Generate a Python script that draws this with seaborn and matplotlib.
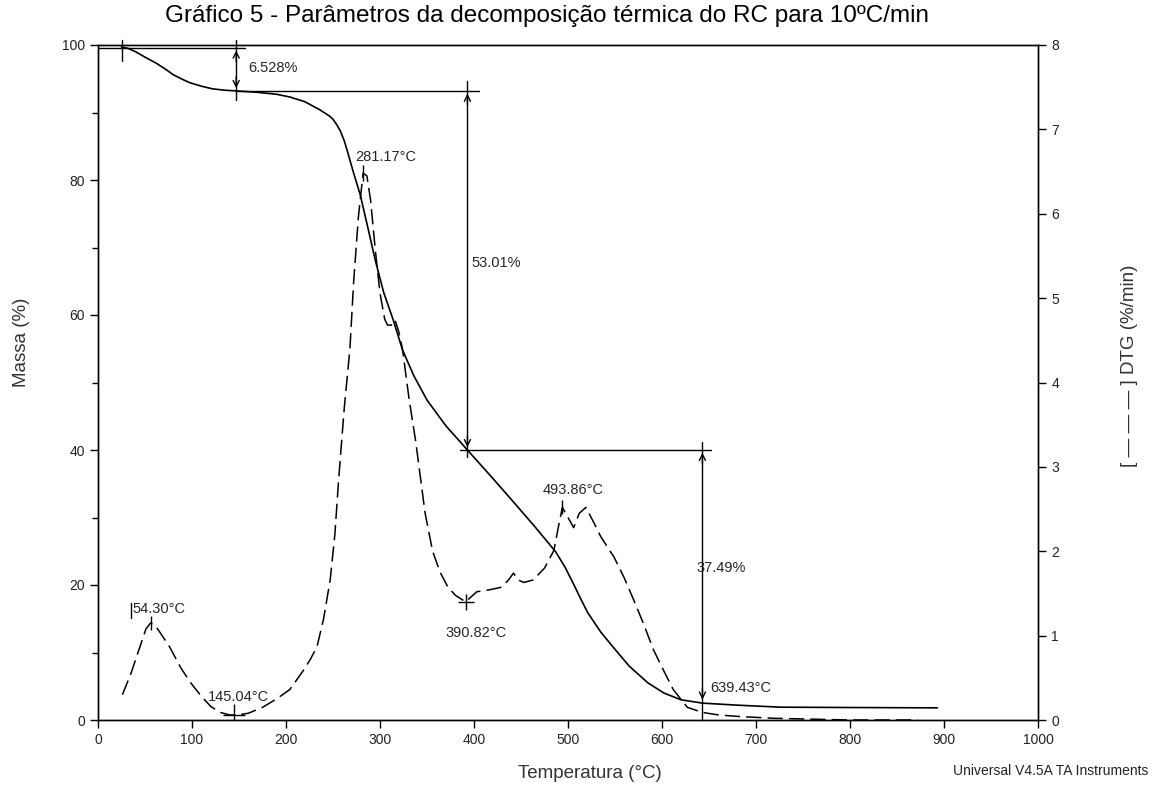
import numpy as np
import pandas as pd
import matplotlib
matplotlib.use("Agg")
import matplotlib.pyplot as plt
import seaborn as sns

# ---------------- data ----------------
tg_temp = [25, 32, 40, 50, 62, 72, 80, 90, 98, 110, 122, 135, 147, 169, 190, 204, 220,
           236, 246, 250, 254, 258, 262, 265, 272, 279, 287, 295, 304, 314, 324, 336,
           350, 370, 393, 420, 442, 465, 487, 497, 505, 513, 521, 535, 548, 565, 585,
           602, 620, 643, 680, 726, 800, 893]
tg_mass = [99.7, 99.5, 99.0, 98.2, 97.3, 96.4, 95.6, 94.9, 94.4, 93.9, 93.5, 93.3, 93.2,
           93.0, 92.7, 92.3, 91.6, 90.4, 89.5, 89.0, 88.2, 87.2, 85.8, 84.4, 81.0, 77.8,
           73.0, 68.1, 63.3, 59.3, 54.8, 51.0, 47.4, 43.6, 40.0, 35.8, 32.3, 28.6, 24.9,
           22.6, 20.4, 18.1, 15.9, 13.0, 10.8, 8.0, 5.5, 4.0, 3.0, 2.5, 2.2, 1.9, 1.85,
           1.8]

dtg_temp = [26, 35, 45, 51, 56, 61, 70, 76, 88, 98, 110, 120, 130, 140, 148, 160, 175,
            190, 204, 218, 226, 233, 240, 247, 252, 256, 262, 268, 272, 277, 282, 286,
            290, 295, 300, 305, 308, 312, 316, 320, 324, 331, 338, 348, 356, 364, 372,
            380, 391, 403, 415, 428, 436, 442, 447, 453, 463, 475, 485, 490, 494, 500,
            506, 512, 519, 527, 535, 549, 560, 570, 580, 591, 602, 612, 627, 643, 660,
            684, 720, 760, 800, 872]
dtg_rate = [0.30, 0.55, 0.88, 1.08, 1.15, 1.12, 0.97, 0.87, 0.62, 0.45, 0.28, 0.16, 0.09,
            0.06, 0.06, 0.08, 0.15, 0.25, 0.36, 0.58, 0.72, 0.87, 1.20, 1.66, 2.20, 2.85,
            3.70, 4.40, 5.20, 5.96, 6.48, 6.45, 6.16, 5.57, 5.06, 4.75, 4.68, 4.68, 4.74,
            4.60, 4.39, 3.80, 3.30, 2.45, 2.00, 1.75, 1.58, 1.48, 1.40, 1.52, 1.54, 1.57,
            1.65, 1.74, 1.66, 1.63, 1.66, 1.80, 2.01, 2.30, 2.52, 2.40, 2.28, 2.45, 2.52,
            2.35, 2.17, 1.93, 1.68, 1.42, 1.15, 0.83, 0.58, 0.36, 0.15, 0.09, 0.06, 0.04,
            0.02, 0.01, 0.0, 0.0]

x_ticks = [0, 100, 200, 300, 400, 500, 600, 700, 800, 900, 1000]
y_ticks = [0, 20, 40, 60, 80, 100]
y2_ticks = [0, 1, 2, 3, 4, 5, 6, 7, 8]

step_labels = ["6.528%", "53.01%", "37.49%"]
peak_labels = ["54.30°C", "145.04°C", "281.17°C", "390.82°C", "493.86°C", "639.43°C"]

title = "Gráfico 5 - Parâmetros da decomposição térmica do RC para 10ºC/min"

# ---------------- style ----------------
sns.set_theme(style="white")
plt.rcParams["font.family"] = ["Liberation Sans", "DejaVu Sans"]

fig = plt.figure(figsize=(11.54, 7.91), dpi=100)
ax = fig.add_axes([98 / 1154, 1 - 720 / 791, 940 / 1154, 675 / 791])
ax2 = ax.twinx()

tg_df = pd.DataFrame({"T": tg_temp, "M": tg_mass})
dtg_df = pd.DataFrame({"T": dtg_temp, "D": dtg_rate})

sns.lineplot(data=tg_df, x="T", y="M", ax=ax, color="black", lw=1.2, sort=False)
sns.lineplot(data=dtg_df, x="T", y="D", ax=ax2, color="black", lw=1.1, sort=False)
ax2.lines[0].set_dashes((10, 4))

ax.set_xlim(0, 1000)
ax.set_ylim(0, 100)
ax2.set_ylim(0, 8)
ax.set_xticks(x_ticks)
ax.set_yticks(y_ticks)
ax.set_yticks(np.arange(10, 100, 20), minor=True)
ax2.set_yticks(y2_ticks)

for a in (ax, ax2):
    for s in a.spines.values():
        s.set_color("black")
        s.set_linewidth(1.0)
ax.tick_params(axis="both", which="major", direction="out", length=6, width=1,
               color="black", labelsize=10, labelcolor="#222222",
               left=True, bottom=True)
ax.tick_params(axis="y", which="minor", direction="out", length=4, width=1,
               color="black", left=True)
ax2.tick_params(axis="y", which="major", direction="out", length=6, width=1,
                color="black", labelsize=10, labelcolor="#222222", right=True)

ax.set_xlabel("Temperatura (°C)", fontsize=13.5, color="#333333")
ax.set_ylabel("Massa (%)", fontsize=13.5, color="#333333")
ax2.set_ylabel("[ — — — ] DTG (%/min)", fontsize=13.5, color="#333333")
ax.xaxis.set_label_coords(0.523, -0.066)
ax.yaxis.set_label_coords(-0.072, 0.56)
ax2.yaxis.set_label_coords(1.088, 0.525)

fig.suptitle(title, x=0.474, y=0.994, fontsize=17.5, color="black")
fig.text(0.995, 0.025, "Universal V4.5A TA Instruments", ha="right", va="center",
         fontsize=10, color="#222222")

k = dict(color="black", lw=1.0)
akw = dict(arrowstyle="->", color="black", lw=1.0, mutation_scale=11)


def vert_arrow(x, y_top, y_bot, ext_top, ext_bot):
    ax.plot([x, x], [ext_bot, ext_top], **k, clip_on=False)
    ax.annotate("", xy=(x, y_top), xytext=(x, y_top - 2.5), arrowprops=akw)
    ax.annotate("", xy=(x, y_bot), xytext=(x, y_bot + 2.5), arrowprops=akw)


fs = 10.5
# step 1
ax.plot([-2, 156], [99.6, 99.6], **k)
ax.plot([25.5, 25.5], [97.6, 100.7], **k, clip_on=False)
vert_arrow(147, 99.6, 93.2, 100.8, 91.8)
ax.text(160, 96.6, step_labels[0], fontsize=fs, va="center", ha="left")
# step 2
ax.plot([148, 405], [93.2, 93.2], **k)
vert_arrow(393, 93.2, 40.0, 94.6, 39.0)
ax.text(397, 67.7, step_labels[1], fontsize=fs, va="center", ha="left")
# step 3
ax.plot([385, 652], [40.0, 40.0], **k)
vert_arrow(643, 40.0, 2.6, 41.2, 0)
ax.text(637, 22.5, step_labels[2], fontsize=fs, va="center", ha="left")

# peak markers (DTG axis)
ax2.plot([56], [1.15], marker="|", ms=10, color="black")
ax2.plot([145.04], [0.06], marker="+", ms=16, mew=1.0, color="black")
ax2.plot([282], [6.48], marker="|", ms=12, color="black")
ax2.plot([391], [1.40], marker="+", ms=12, mew=1.0, color="black")
ax2.plot([494], [2.52], marker="|", ms=10, color="black")

ax2.plot([35.5, 35.5], [1.21, 1.39], **k)
ax2.text(36.5, 1.32, peak_labels[0], fontsize=fs, va="center", ha="left")
ax2.text(117, 0.27, peak_labels[1], fontsize=fs, va="center", ha="left")
ax2.text(273.5, 6.67, peak_labels[2], fontsize=fs, va="center", ha="left")
ax2.text(370, 1.03, peak_labels[3], fontsize=fs, va="center", ha="left")
ax2.text(473, 2.72, peak_labels[4], fontsize=fs, va="center", ha="left")
ax2.text(651, 0.38, peak_labels[5], fontsize=fs, va="center", ha="left")

fig.savefig("out.png", dpi=100)
